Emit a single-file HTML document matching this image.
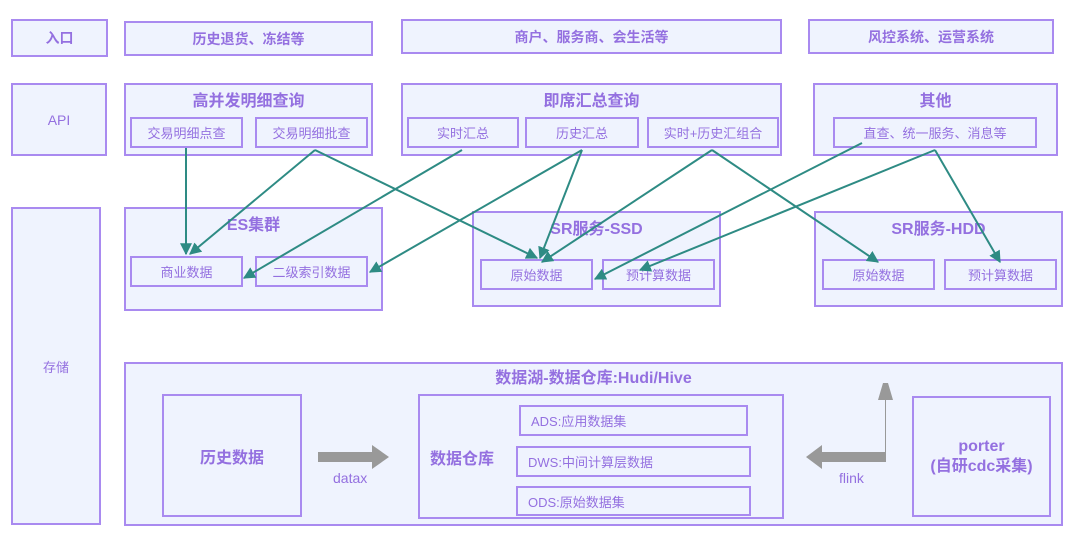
<!DOCTYPE html>
<html><head><meta charset="utf-8"><style>
body{margin:0;width:1080px;height:540px;background:#fff;position:relative;overflow:hidden;font-family:"Liberation Sans","Noto Sans CJK SC",sans-serif;}
.b{position:absolute;box-sizing:border-box;border:2px solid #a98af0;background:#eff3fe;color:#9470e0;display:flex;align-items:center;justify-content:center;font-size:14px;}
.t{align-items:flex-start;font-weight:bold;font-size:16px;}
.c{font-size:13px;}
.l{position:absolute;color:#9470e0;font-size:14px;}
</style></head><body>
<div class="b" style="left:11px;top:19px;width:97px;height:38px;font-weight:bold">入口</div>
<div class="b" style="left:124px;top:21px;width:249px;height:35px;font-weight:bold">历史退货、冻结等</div>
<div class="b" style="left:401px;top:19px;width:381px;height:35px;font-weight:bold">商户、服务商、会生活等</div>
<div class="b" style="left:808px;top:19px;width:246px;height:35px;font-weight:bold">风控系统、运营系统</div>
<div class="b" style="left:11px;top:83px;width:96px;height:73px">API</div>
<div class="b t" style="left:124px;top:83px;width:249px;height:73px;padding-top:2px">高并发明细查询</div>
<div class="b c" style="left:130px;top:117px;width:113px;height:31px">交易明细点查</div>
<div class="b c" style="left:255px;top:117px;width:113px;height:31px">交易明细批查</div>
<div class="b t" style="left:401px;top:83px;width:381px;height:73px;padding-top:2px">即席汇总查询</div>
<div class="b c" style="left:407px;top:117px;width:112px;height:31px">实时汇总</div>
<div class="b c" style="left:525px;top:117px;width:114px;height:31px">历史汇总</div>
<div class="b c" style="left:647px;top:117px;width:132px;height:31px">实时+历史汇组合</div>
<div class="b t" style="left:813px;top:83px;width:245px;height:73px;padding-top:2px">其他</div>
<div class="b c" style="left:833px;top:117px;width:204px;height:31px">直查、统一服务、消息等</div>
<div class="b c" style="left:11px;top:207px;width:90px;height:318px">存储</div>
<div class="b t" style="left:124px;top:207px;width:259px;height:104px;padding-top:2px">ES集群</div>
<div class="b c" style="left:130px;top:256px;width:113px;height:31px">商业数据</div>
<div class="b c" style="left:255px;top:256px;width:113px;height:31px">二级索引数据</div>
<div class="b t" style="left:472px;top:211px;width:249px;height:96px;padding-top:2px">SR服务-SSD</div>
<div class="b c" style="left:480px;top:259px;width:113px;height:31px">原始数据</div>
<div class="b c" style="left:602px;top:259px;width:113px;height:31px">预计算数据</div>
<div class="b t" style="left:814px;top:211px;width:249px;height:96px;padding-top:2px">SR服务-HDD</div>
<div class="b c" style="left:822px;top:259px;width:113px;height:31px">原始数据</div>
<div class="b c" style="left:944px;top:259px;width:113px;height:31px">预计算数据</div>
<div class="b t" style="left:124px;top:362px;width:939px;height:164px;padding-top:0">数据湖-数据仓库:Hudi/Hive</div>
<div class="b" style="left:162px;top:394px;width:140px;height:123px;font-weight:bold;font-size:16px">历史数据</div>
<div class="b" style="left:418px;top:394px;width:366px;height:125px;justify-content:flex-start;padding-left:10px;font-weight:bold;font-size:16px">数据仓库</div>
<div class="b c" style="left:519px;top:405px;width:229px;height:31px;justify-content:flex-start;padding-left:10px">ADS:应用数据集</div>
<div class="b c" style="left:516px;top:446px;width:235px;height:31px;justify-content:flex-start;padding-left:10px">DWS:中间计算层数据</div>
<div class="b c" style="left:516px;top:486px;width:235px;height:30px;justify-content:flex-start;padding-left:10px">ODS:原始数据集</div>
<div class="b" style="left:912px;top:396px;width:139px;height:121px;font-weight:bold;font-size:16px;text-align:center;line-height:20px">porter<br>(自研cdc采集)</div>
<div class="l" style="left:333px;top:470px">datax</div>
<div class="l" style="left:839px;top:470px">flink</div>
<svg width="1080" height="540" style="position:absolute;left:0;top:0">
<defs><marker id="a" viewBox="0 0 10 10" refX="9" refY="5" markerWidth="6" markerHeight="6" orient="auto"><path d="M0,0L10,5L0,10z" fill="#2e8b84"/></marker></defs>
<g stroke="#2e8b84" stroke-width="2" fill="none" marker-end="url(#a)">
<line x1="186" y1="148" x2="186" y2="254"/>
<line x1="315" y1="150" x2="190" y2="254"/>
<line x1="315" y1="150" x2="537" y2="258"/>
<line x1="462" y1="150" x2="244" y2="278"/>
<line x1="582" y1="150" x2="370" y2="272"/>
<line x1="582" y1="150" x2="540" y2="258"/>
<line x1="712" y1="150" x2="542" y2="262"/>
<line x1="712" y1="150" x2="878" y2="262"/>
<line x1="862" y1="143" x2="595" y2="279"/>
<line x1="935" y1="150" x2="640" y2="270"/>
<line x1="935" y1="150" x2="1000" y2="262"/>
</g>
<g fill="#999">
<polygon points="318,452 372,452 372,445 389,457 372,469 372,462 318,462"/>
<polygon points="885,452 885,400 878,400 883,383 888,383 893,400 886,400 886,462 822,462 822,469 806,457 822,445 822,452"/>
</g>
</svg>
</body></html>
